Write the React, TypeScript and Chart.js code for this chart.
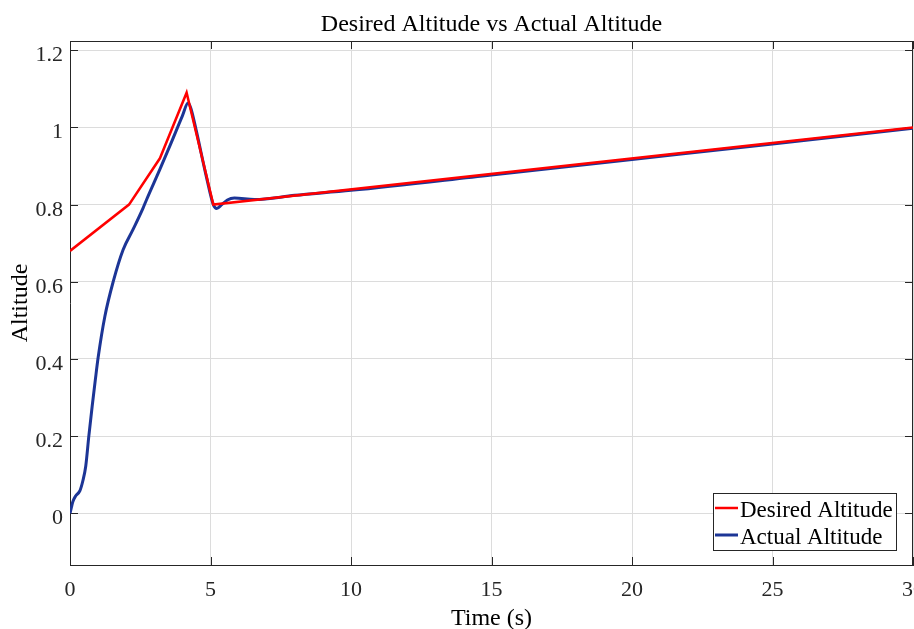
import React, { useEffect, useRef } from 'react';
import { Chart, registerables } from 'chart.js';

Chart.register(...registerables);

const chartTitle = 'Desired Altitude vs Actual Altitude';
const xAxisTitle = 'Time (s)';
const yAxisTitle = 'Altitude';

const xTicks = [0, 5, 10, 15, 20, 25, 30];
const yTicks = [0, 0.2, 0.4, 0.6, 0.8, 1, 1.2];

const desiredLabel = 'Desired Altitude';
const desiredTime = [0, 2.1, 3.2, 4.15, 5.1, 30];
const desiredAltitude = [0.68, 0.8, 0.92, 1.09, 0.8, 1.0];

const actualLabel = 'Actual Altitude';
const actualTime = [
  0, 0.05, 0.1, 0.2, 0.35, 0.46, 0.56, 0.67, 0.79, 0.9, 1.0, 1.24, 1.54, 1.89,
  2.24, 2.6, 2.72, 3.19, 3.6, 4.0, 4.2, 4.3, 4.49, 4.85, 5.1, 5.22, 5.4, 5.6,
  5.85, 6.56, 8.0, 10, 15, 20, 25, 30,
];
const actualAltitude = [
  0, 0.015, 0.03, 0.045, 0.058, 0.085, 0.122, 0.2, 0.278, 0.345, 0.403, 0.51,
  0.601, 0.683, 0.735, 0.791, 0.812, 0.89, 0.96, 1.03, 1.063, 1.05, 0.993,
  0.873, 0.8, 0.79, 0.8, 0.812, 0.817, 0.813, 0.824, 0.837, 0.877, 0.917,
  0.957, 0.998,
];

const yMin = -0.134;
const yMax = 1.224;

const FONT = "'Liberation Serif', 'Times New Roman', serif";
const TEXT = '#262626';

const framePlugin = {
  id: 'frame',
  beforeDatasetsDraw(chart: any) {
    const { ctx, chartArea: a, scales } = chart;
    const x = scales.x;
    const y = scales.y;
    ctx.save();
    ctx.strokeStyle = TEXT;
    ctx.lineWidth = 1;
    ctx.beginPath();
    ctx.moveTo(a.left, a.top + 0.5);
    ctx.lineTo(a.right, a.top + 0.5);
    ctx.moveTo(a.right - 0.5, a.top);
    ctx.lineTo(a.right - 0.5, a.bottom);
    x.ticks.forEach((t: any) => {
      const px = Math.round(x.getPixelForValue(t.value)) + 0.5;
      ctx.moveTo(px, a.bottom);
      ctx.lineTo(px, a.bottom - 8);
      ctx.moveTo(px, a.top);
      ctx.lineTo(px, a.top + 8);
    });
    y.ticks.forEach((t: any) => {
      const py = Math.round(y.getPixelForValue(t.value)) + 0.5;
      ctx.moveTo(a.left, py);
      ctx.lineTo(a.left + 8, py);
      ctx.moveTo(a.right, py);
      ctx.lineTo(a.right - 8, py);
    });
    ctx.stroke();
    // y tick labels (placed slightly below their grid lines, as in the source)
    ctx.fillStyle = TEXT;
    ctx.font = `22px ${FONT}`;
    ctx.textAlign = 'right';
    ctx.textBaseline = 'alphabetic';
    y.ticks.forEach((t: any) => {
      const py = y.getPixelForValue(t.value);
      ctx.fillText(String(t.value), a.left - 7, py + 11);
    });
    ctx.restore();
  },
  afterDatasetsDraw(chart: any) {
    const { ctx, chartArea: a } = chart;
    const w = 183;
    const h = 57;
    const left = a.right - 17 - w;
    const top = a.bottom - 15 - h;
    ctx.save();
    ctx.fillStyle = '#ffffff';
    ctx.fillRect(left, top, w, h);
    ctx.strokeStyle = TEXT;
    ctx.lineWidth = 1;
    ctx.strokeRect(Math.round(left) + 0.5, Math.round(top) + 0.5, w, h);
    ctx.font = `23px ${FONT}`;
    ctx.textBaseline = 'alphabetic';
    ctx.textAlign = 'left';
    chart.data.datasets.forEach((ds: any, i: number) => {
      const ly = top + 15 + i * 27;
      ctx.strokeStyle = ds.borderColor;
      ctx.lineWidth = ds.borderWidth;
      ctx.beginPath();
      ctx.moveTo(left + 2, ly);
      ctx.lineTo(left + 25, ly);
      ctx.stroke();
      ctx.fillStyle = '#000000';
      ctx.fillText(ds.label, left + 27, top + 24 + i * 27);
    });
    ctx.restore();
  },
  afterDraw(chart: any) {
    const { ctx, chartArea: a } = chart;
    ctx.save();
    ctx.fillStyle = '#000000';
    ctx.textAlign = 'center';
    ctx.textBaseline = 'alphabetic';
    ctx.font = `24px ${FONT}`;
    ctx.fillText(chartTitle, (a.left + a.right) / 2, 31);
    ctx.fillText(xAxisTitle, (a.left + a.right) / 2, 625);
    ctx.translate(27, (a.top + a.bottom) / 2);
    ctx.rotate(-Math.PI / 2);
    ctx.fillText(yAxisTitle, 0, 0);
    ctx.restore();
  },
};

export default function App() {
  const ref = useRef<HTMLCanvasElement | null>(null);
  useEffect(() => {
    if (!ref.current) return;
    const chart = new Chart(ref.current, {
      type: 'line',
      data: {
        datasets: [
          {
            label: desiredLabel,
            data: desiredTime.map((t, i) => ({ x: t, y: desiredAltitude[i] })),
            borderColor: '#ff0000',
            borderWidth: 2.5,
            pointRadius: 0,
            tension: 0,
            fill: false,
          },
          {
            label: actualLabel,
            data: actualTime.map((t, i) => ({ x: t, y: actualAltitude[i] })),
            borderColor: '#1c3596',
            borderWidth: 3,
            pointRadius: 0,
            cubicInterpolationMode: 'monotone',
            fill: false,
          },
        ],
      },
      options: {
        animation: false,
        responsive: false,
        devicePixelRatio: 1,
        layout: { padding: { top: 41, right: 1, left: 0, bottom: 0 } },
        plugins: {
          legend: { display: false },
          title: { display: false },
          tooltip: { enabled: false },
        },
        scales: {
          x: {
            type: 'linear',
            min: 0,
            max: 30,
            afterBuildTicks: (s: any) => {
              s.ticks = xTicks.map((v) => ({ value: v }));
            },
            afterFit: (s: any) => {
              s.height = 64;
              s.paddingLeft = 0;
              s.paddingRight = 0;
            },
            grid: { color: '#dcdcdc', drawTicks: false, lineWidth: 1 },
            border: { display: true, color: TEXT, width: 1 },
            ticks: {
              font: { family: FONT, size: 22 },
              color: TEXT,
              padding: 12,
              maxRotation: 0,
              autoSkip: false,
              callback: (v: any) => String(v),
            },
          },
          y: {
            type: 'linear',
            min: yMin,
            max: yMax,
            afterBuildTicks: (s: any) => {
              s.ticks = yTicks.map((v) => ({ value: v }));
            },
            afterFit: (s: any) => {
              s.width = 70;
              s.paddingTop = 0;
              s.paddingBottom = 0;
            },
            grid: { color: '#dcdcdc', drawTicks: false, lineWidth: 1 },
            border: { display: true, color: TEXT, width: 1 },
            ticks: {
              display: false,
              autoSkip: false,
            },
          },
        },
      },
      plugins: [framePlugin],
    } as any);
    return () => chart.destroy();
  }, []);
  return (
    <div style={{ position: 'absolute', left: 0, top: 0, width: 914, height: 629, overflow: 'hidden' }}>
      <canvas ref={ref} width={914} height={629} style={{ display: 'block' }} />
    </div>
  );
}
